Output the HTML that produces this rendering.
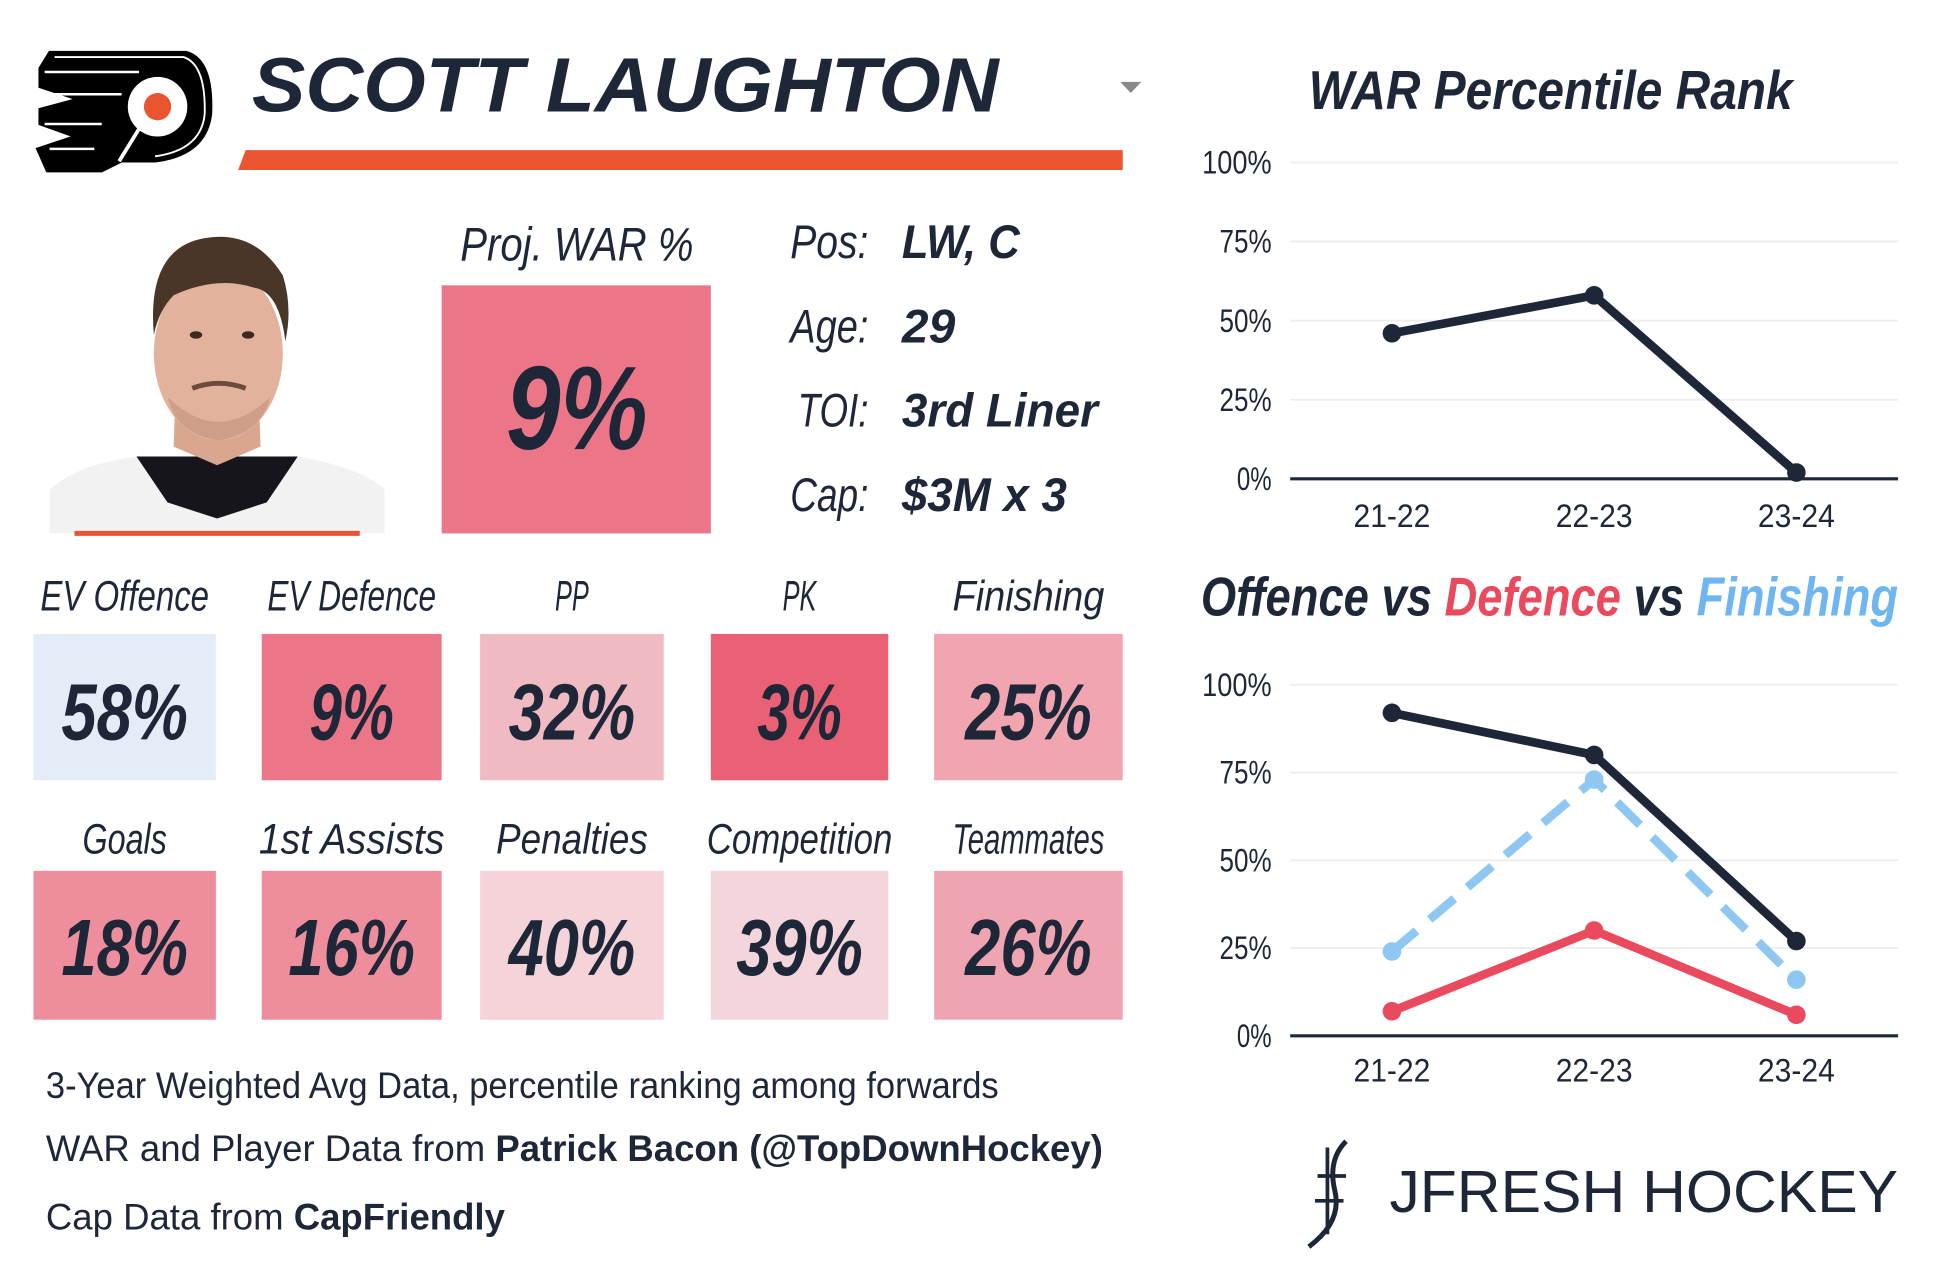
<!DOCTYPE html>
<html><head><meta charset="utf-8"><style>
html,body{margin:0;padding:0;background:#fff;width:1944px;height:1274px;overflow:hidden}
svg{display:block}
text{font-family:"Liberation Sans",sans-serif}
</style></head><body>
<svg id="card" width="1944" height="1274" viewBox="0 0 1567 1027" preserveAspectRatio="none" xmlns="http://www.w3.org/2000/svg">
<g>
 <path d="M40 42 L150 42 Q172 48 170 92 Q166 125 125 130 L98 130 L82 138 L38 138 L30 120 L60 110 L32 100 L32 88 L62 80 L32 70 L32 55 Z" fill="#000" stroke="#000" stroke-width="2"/>
 <path d="M44 46 L148 46 Q166 52 165 92 Q162 121 125 126" fill="none" stroke="#fff" stroke-width="1.5"/>
 <circle cx="127" cy="86" r="24" fill="#fff"/>
 <circle cx="127" cy="86" r="11" fill="#e8552e"/>
 <path d="M96 130 L112 104" stroke="#fff" stroke-width="3"/>
 <path d="M36 58 L112 58 M36 76 L98 76 M36 100 L82 100 M40 120 L76 120" stroke="#fff" stroke-width="2"/>
</g>
<text x="203" y="90" font-size="62" font-weight="bold" font-style="italic" fill="#1e2738" textLength="602" lengthAdjust="spacingAndGlyphs">SCOTT LAUGHTON</text>
<path d="M903 66 L920 66 L911.5 75 Z" fill="#8a8a8a"/>
<path d="M198 121 L905 121 L905 137 L192 137 Z" fill="#e8552e"/>
<g>
 <path d="M40 430 L40 395 Q60 375 110 368 L240 368 Q295 378 310 395 L310 430 Z" fill="#f2f2f2"/>
 <path d="M110 368 L240 368 L215 405 L175 418 L135 405 Z" fill="#15151b"/>
 <path d="M60 428 L290 428 L290 432 L60 432 Z" fill="#e8552e"/>
 <path d="M142 300 L140 360 L175 375 L210 360 L208 300 Z" fill="#d9a790"/>
 <ellipse cx="176" cy="285" rx="52" ry="70" fill="#e2b29c"/>
 <path d="M124 270 Q118 200 165 192 Q205 185 228 222 Q236 248 230 275 Q225 235 205 232 Q175 222 140 238 Q128 250 124 270 Z" fill="#4a3628"/>
 <ellipse cx="158" cy="270" rx="5" ry="3" fill="#3b2a20"/><ellipse cx="200" cy="270" rx="5" ry="3" fill="#3b2a20"/>
 <path d="M155 313 Q176 305 198 313" stroke="#6b4b3a" stroke-width="4" fill="none"/>
 <path d="M135 320 Q176 360 218 320 Q210 350 176 355 Q142 350 135 320Z" fill="#b98a76" opacity="0.5"/>
</g>
<text x="465" y="210" font-size="38" font-style="italic" fill="#1e2738" text-anchor="middle" textLength="188" lengthAdjust="spacingAndGlyphs">Proj. WAR %</text>
<rect x="356" y="230" width="217" height="200" fill="#ec7688"/>
<text x="465" y="362" font-size="96" font-weight="bold" font-style="italic" fill="#1e2738" text-anchor="middle" textLength="114" lengthAdjust="spacingAndGlyphs">9%</text>
<g font-size="38" fill="#1e2738">
 <text x="700" y="208" text-anchor="end" font-style="italic" textLength="63" lengthAdjust="spacingAndGlyphs">Pos:</text>
 <text x="727" y="208" font-weight="bold" font-style="italic" textLength="95" lengthAdjust="spacingAndGlyphs">LW, C</text>
 <text x="700" y="276" text-anchor="end" font-style="italic" textLength="63" lengthAdjust="spacingAndGlyphs">Age:</text>
 <text x="727" y="276" font-weight="bold" font-style="italic" textLength="43" lengthAdjust="spacingAndGlyphs">29</text>
 <text x="700" y="344" text-anchor="end" font-style="italic" textLength="57" lengthAdjust="spacingAndGlyphs">TOI:</text>
 <text x="727" y="344" font-weight="bold" font-style="italic" textLength="158" lengthAdjust="spacingAndGlyphs">3rd Liner</text>
 <text x="700" y="412" text-anchor="end" font-style="italic" textLength="63" lengthAdjust="spacingAndGlyphs">Cap:</text>
 <text x="727" y="412" font-weight="bold" font-style="italic" textLength="133" lengthAdjust="spacingAndGlyphs">$3M x 3</text>
</g>
<g id="tiles"></g>
<g font-size="30" fill="#1e2738">
 <text x="37" y="885" textLength="768" lengthAdjust="spacingAndGlyphs">3-Year Weighted Avg Data, percentile ranking among forwards</text>
 <text x="37" y="936" textLength="852" lengthAdjust="spacingAndGlyphs">WAR and Player Data from <tspan font-weight="bold">Patrick Bacon (@TopDownHockey)</tspan></text>
 <text x="37" y="991" textLength="370" lengthAdjust="spacingAndGlyphs">Cap Data from <tspan font-weight="bold">CapFriendly</tspan></text>
</g>
<text x="1055" y="88" font-size="44" font-weight="bold" font-style="italic" fill="#1e2738" textLength="390" lengthAdjust="spacingAndGlyphs">WAR Percentile Rank</text>
<text x="968" y="496" font-size="44" font-weight="bold" font-style="italic" textLength="562" lengthAdjust="spacingAndGlyphs"><tspan fill="#1e2738">Offence vs </tspan><tspan fill="#ea4a5e">Defence</tspan><tspan fill="#1e2738"> vs </tspan><tspan fill="#6fb6f0">Finishing</tspan></text>
<g id="chart1"></g>
<g id="chart2"></g>
<g>
 <path d="M1085 920 Q1070 935 1076 960 Q1082 985 1055 1005" stroke="#1e2738" stroke-width="4" fill="none"/>
 <path d="M1070 925 L1070 995 M1062 948 L1085 948 M1060 968 L1083 968" stroke="#1e2738" stroke-width="3" fill="none"/>
 <text x="1120" y="977" font-size="48" fill="#1e2738" textLength="410" lengthAdjust="spacingAndGlyphs">JFRESH HOCKEY</text>
</g>
<script>
const NS='http://www.w3.org/2000/svg';
function mk(p,tag,at,txt){const e=document.createElementNS(NS,tag);for(const k in at)e.setAttribute(k,at[k]);if(txt!=null)e.textContent=txt;p.appendChild(e);return e;}
const tileLabels=['EV Offence','EV Defence','PP','PK','Finishing','Goals','1st Assists','Penalties','Competition','Teammates'];
const tileValues=[58,9,32,3,25,18,16,40,39,26];
const tileX=[[27,147],[211,145],[387,148],[573,143],[753,152]];
const tileColors=['#e3edf7','#ec7688','#f0bac3','#ea6075','#f0a5b0','#ee8e9c','#ee8e9c','#f4d3d9','#f4d5db','#efa5b1'];
const tg=document.getElementById('tiles');
tileLabels.forEach((lab,i)=>{
 const r=Math.floor(i/5),c=i%5,[x,w]=tileX[c];
 const y=r?702:511,h=r?120:118,ly=r?688:492,vy=r?786:596;
 const g=mk(tg,'g',{});
 
 
 mk(g,'text',{x:x+w/2,y:ly,'font-size':34,'font-style':'italic',fill:'#1e2738','text-anchor':'middle',textLength:lab.length*13.6,lengthAdjust:'spacingAndGlyphs'},lab);
 mk(g,'rect',{x:x,y:y,width:w,height:h,fill:tileColors[i]});
 const v=tileValues[i]+'%';
 mk(g,'text',{x:x+w/2,y:vy,'font-size':64,'font-weight':'bold','font-style':'italic',fill:'#1e2738','text-anchor':'middle',textLength:v.length*34,lengthAdjust:'spacingAndGlyphs'},v);
});
const seasons=['21-22','22-23','23-24'];
const yTicks=[0,25,50,75,100];
const warValues=[46,58,2];
const offenceValues=[92,80,27];
const defenceValues=[7,30,6];
const finishingValues=[24,73,16];
function chart(id,top,bottom,labY,series){
 const g=document.getElementById(id);
 const xs=i=>1122+i*163, ys=v=>bottom-(v/100)*(bottom-top);
 yTicks.forEach(t=>{
  const gl=mk(g,'line',{x1:1040,x2:1530,y1:ys(t),y2:ys(t),stroke:t===0?'#1e2738':'#eeeeee','stroke-width':t===0?2.5:1.5});
  
  const tl=mk(g,'text',{x:1025,y:ys(t)+9,'font-size':26,fill:'#1e2738','text-anchor':'end',textLength:(String(t).length+1)*14,lengthAdjust:'spacingAndGlyphs'},t+'%');
  
 });
 seasons.forEach((s,i)=>{
  const xl=mk(g,'text',{x:xs(i),y:labY,'font-size':26,fill:'#1e2738','text-anchor':'middle',textLength:62,lengthAdjust:'spacingAndGlyphs'},s);
  
 });
 series.forEach(([name,vals,col,dash])=>{
  const pts=vals.map((v,i)=>xs(i)+','+ys(v)).join(' ');
  const pl=mk(g,'polyline',{points:pts,fill:'none',stroke:col,'stroke-width':7,'stroke-linejoin':'round'});
  if(dash)pl.setAttribute('stroke-dasharray','26 14');
  
  
  vals.forEach((v,i)=>{
   const c=mk(g,'circle',{cx:xs(i),cy:ys(v),r:7.5,fill:col});
   
   
  });
 });
}
chart('chart1',131,386,425,[['war',warValues,'#1e2738',false]]);
chart('chart2',552,835,872,[['finishing',finishingValues,'#8ec8f2',true],['defence',defenceValues,'#ea4a5e',false],['offence',offenceValues,'#1e2738',false]]);
</script>
</svg>
</body></html>
